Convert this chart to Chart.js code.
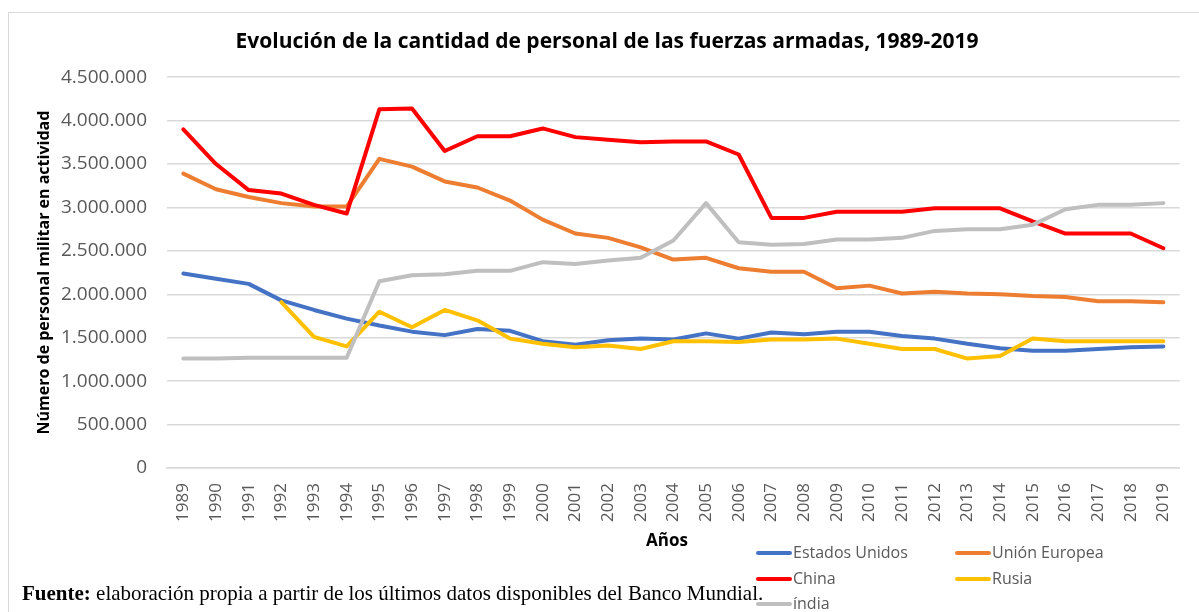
<!DOCTYPE html>
<html>
<head>
<meta charset="utf-8">
<script src="https://cdn.jsdelivr.net/npm/chart.js@4.4.1/dist/chart.umd.min.js"></script>
<style>
  html, body { margin: 0; padding: 0; background: #fff; }
  #wrap { position: relative; width: 1199px; height: 612px; }
</style>
</head>
<body>
<div id="wrap"><canvas id="fuerzasChart" width="1199" height="612"></canvas></div>
<script>
// años 1989-2019
const years = ['1989','1990','1991','1992','1993','1994','1995','1996','1997','1998','1999','2000',
  '2001','2002','2003','2004','2005','2006','2007','2008','2009','2010','2011','2012','2013','2014',
  '2015','2016','2017','2018','2019'];

const estadosUnidos = [2240000, 2180000, 2120000, 1930000, 1820000, 1720000, 1640000, 1570000, 1530000, 1600000,
  1580000, 1460000, 1420000, 1470000, 1490000, 1480000, 1550000, 1490000, 1560000, 1540000, 1570000, 1570000,
  1520000, 1490000, 1430000, 1380000, 1350000, 1350000, 1370000, 1390000, 1400000];

const unionEuropea = [3390000, 3210000, 3120000, 3050000, 3010000, 3010000, 3560000, 3470000, 3300000, 3230000,
  3080000, 2860000, 2700000, 2650000, 2540000, 2400000, 2420000, 2300000, 2260000, 2260000, 2070000, 2100000,
  2010000, 2030000, 2010000, 2000000, 1980000, 1970000, 1920000, 1920000, 1910000];

const china = [3900000, 3500000, 3200000, 3160000, 3030000, 2930000, 4130000, 4140000, 3650000, 3820000,
  3820000, 3910000, 3810000, 3780000, 3750000, 3760000, 3760000, 3610000, 2880000, 2880000, 2950000, 2950000,
  2950000, 2990000, 2990000, 2990000, 2840000, 2700000, 2700000, 2700000, 2530000];

const rusia = [null, null, null, 1910000, 1510000, 1400000, 1800000, 1620000, 1820000, 1700000,
  1490000, 1430000, 1390000, 1410000, 1370000, 1460000, 1460000, 1450000, 1480000, 1480000, 1490000, 1430000,
  1370000, 1370000, 1260000, 1290000, 1490000, 1460000, 1460000, 1460000, 1460000];

const india = [1260000, 1260000, 1270000, 1270000, 1270000, 1270000, 2150000, 2220000, 2230000, 2270000,
  2270000, 2370000, 2350000, 2390000, 2420000, 2620000, 3050000, 2600000, 2570000, 2580000, 2630000, 2630000,
  2650000, 2730000, 2750000, 2750000, 2800000, 2980000, 3030000, 3030000, 3050000];

const seriesNames = ['Estados Unidos', 'Unión Europea', 'China', 'Rusia', 'índia'];
const seriesColors = ['#4472C4', '#ED7D31', '#FF0000', '#FFC000', '#BFBFBF'];

const sansFont = "'Open Sans', sans-serif";

// pone puntos de miles: 4500000 -> 4.500.000
function miles(v) {
  return String(Math.round(v)).replace(/\B(?=(\d{3})+(?!\d))/g, '.');
}

// leyenda, título del eje x y nota de fuente dibujados a mano (como en Excel)
const extrasPlugin = {
  id: 'extras',
  afterDraw(chart) {
    const ctx = chart.ctx;
    ctx.save();
    // marco del gráfico
    ctx.strokeStyle = '#D9D9D9';
    ctx.lineWidth = 1;
    ctx.strokeRect(8.5, 12.5, 1300, 700);

    // título eje x
    ctx.fillStyle = '#000';
    ctx.font = 'bold 17px ' + sansFont;
    ctx.textAlign = 'center';
    ctx.textBaseline = 'middle';
    ctx.fillText('Años', 667, 541);

    // leyenda en dos columnas
    const cols = [758, 957];
    const rows = [553, 579, 604];
    ctx.font = '16px ' + sansFont;
    ctx.textAlign = 'left';
    chart.data.datasets.forEach((ds, i) => {
      const x = cols[i % 2];
      const y = rows[Math.floor(i / 2)];
      ctx.strokeStyle = ds.borderColor;
      ctx.lineWidth = 4;
      ctx.lineCap = 'round';
      ctx.beginPath();
      ctx.moveTo(x, y);
      ctx.lineTo(x + 32, y);
      ctx.stroke();
      ctx.fillStyle = '#595959';
      ctx.fillText(ds.label, x + 35, y);
    });

    // fuente
    ctx.fillStyle = '#000';
    ctx.textBaseline = 'alphabetic';
    ctx.font = 'bold 21px "Liberation Serif", serif';
    const bold = 'Fuente:';
    ctx.fillText(bold, 22, 600);
    const w = ctx.measureText(bold).width;
    ctx.font = '21px "Liberation Serif", serif';
    ctx.fillText(' elaboración propia a partir de los últimos datos disponibles del Banco Mundial.', 22 + w, 600);
    ctx.restore();
  }
};

const dataSets = [estadosUnidos, unionEuropea, china, rusia, india].map((values, i) => ({
  label: seriesNames[i],
  data: values,
  borderColor: seriesColors[i],
  backgroundColor: seriesColors[i],
  borderWidth: 4,
  pointRadius: 0,
  pointHoverRadius: 0,
  tension: 0,
  borderJoinStyle: 'round',
  borderCapStyle: 'round',
  spanGaps: false,
  order: 5 - i // las últimas series quedan encima
}));

const ctx = document.getElementById('fuerzasChart').getContext('2d');
new Chart(ctx, {
  type: 'line',
  data: { labels: years, datasets: dataSets },
  options: {
    responsive: false,
    animation: false,
    devicePixelRatio: 1,
    layout: { padding: { left: 27, right: 12, top: 0, bottom: 60 } },
    plugins: {
      legend: { display: false },
      tooltip: { enabled: false },
      title: {
        display: true,
        text: 'Evolución de la cantidad de personal de las fuerzas armadas, 1989-2019',
        color: '#000',
        font: { family: sansFont, size: 21, weight: 'bold', lineHeight: 1.2 },
        padding: { top: 29, bottom: 23 }
      }
    },
    scales: {
      x: {
        offset: true,
        grid: { display: false, drawTicks: false },
        border: { color: '#D9D9D9', width: 1.5 },
        ticks: {
          color: '#595959',
          font: { family: sansFont, size: 17 },
          minRotation: 90,
          maxRotation: 90,
          autoSkip: false,
          padding: 15
        },
        afterFit(scale) { scale.height = 84; }
      },
      y: {
        min: 0,
        max: 4500000,
        grid: { color: '#D9D9D9', lineWidth: 1.5, drawTicks: false },
        border: { display: false },
        ticks: {
          stepSize: 500000,
          color: '#595959',
          font: { family: sansFont, size: 19 },
          padding: 20,
          callback: v => miles(v)
        },
        title: {
          display: true,
          text: 'Número de personal militar en actividad',
          color: '#000',
          font: { family: sansFont, size: 16, weight: 'bold', lineHeight: 1.2 },
          padding: { top: 8, bottom: 0 }
        },
        afterFit(scale) { scale.width = 140; }
      }
    }
  },
  plugins: [extrasPlugin]
});
</script>
</body>
</html>
